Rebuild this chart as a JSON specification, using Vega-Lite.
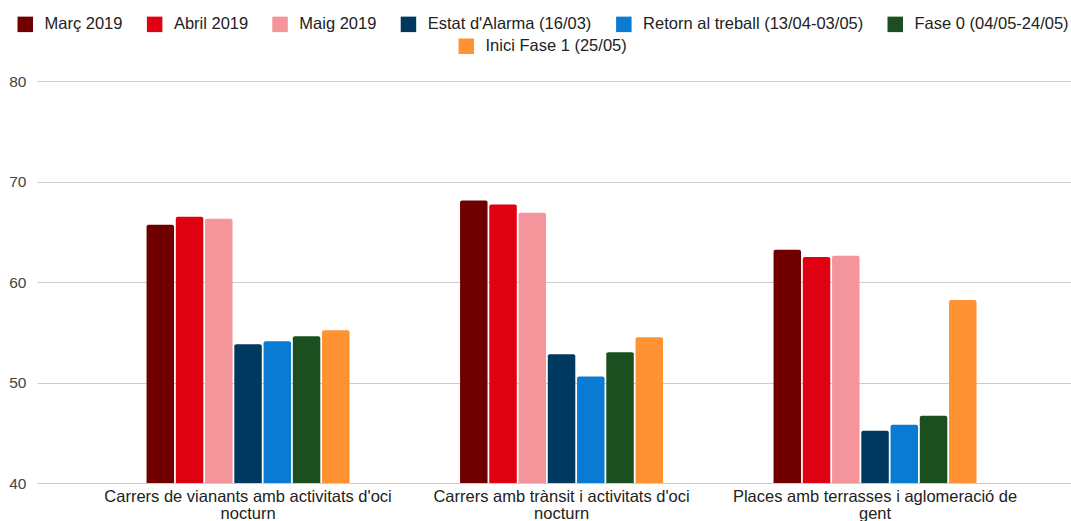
{
  "$schema": "https://vega.github.io/schema/vega-lite/v6.json",
  "width": 1034,
  "height": 402,
  "autosize": {"type": "none"},
  "padding": {"left": 37, "top": 81, "right": 0, "bottom": 38},
  "background": "white",
  "data": {
    "values": [
      {"cat": "Carrers de vianants amb activitats d'oci nocturn", "serie": "Març 2019", "value": 65.7},
      {"cat": "Carrers de vianants amb activitats d'oci nocturn", "serie": "Abril 2019", "value": 66.5},
      {"cat": "Carrers de vianants amb activitats d'oci nocturn", "serie": "Maig 2019", "value": 66.3},
      {"cat": "Carrers de vianants amb activitats d'oci nocturn", "serie": "Estat d'Alarma (16/03)", "value": 53.8},
      {"cat": "Carrers de vianants amb activitats d'oci nocturn", "serie": "Retorn al treball (13/04-03/05)", "value": 54.1},
      {"cat": "Carrers de vianants amb activitats d'oci nocturn", "serie": "Fase 0 (04/05-24/05)", "value": 54.6},
      {"cat": "Carrers de vianants amb activitats d'oci nocturn", "serie": "Inici Fase 1 (25/05)", "value": 55.2},
      {"cat": "Carrers amb trànsit i activitats d'oci nocturn", "serie": "Març 2019", "value": 68.1},
      {"cat": "Carrers amb trànsit i activitats d'oci nocturn", "serie": "Abril 2019", "value": 67.7},
      {"cat": "Carrers amb trànsit i activitats d'oci nocturn", "serie": "Maig 2019", "value": 66.9},
      {"cat": "Carrers amb trànsit i activitats d'oci nocturn", "serie": "Estat d'Alarma (16/03)", "value": 52.8},
      {"cat": "Carrers amb trànsit i activitats d'oci nocturn", "serie": "Retorn al treball (13/04-03/05)", "value": 50.6},
      {"cat": "Carrers amb trànsit i activitats d'oci nocturn", "serie": "Fase 0 (04/05-24/05)", "value": 53.0},
      {"cat": "Carrers amb trànsit i activitats d'oci nocturn", "serie": "Inici Fase 1 (25/05)", "value": 54.5},
      {"cat": "Places amb terrasses i aglomeració de gent", "serie": "Març 2019", "value": 63.2},
      {"cat": "Places amb terrasses i aglomeració de gent", "serie": "Abril 2019", "value": 62.5},
      {"cat": "Places amb terrasses i aglomeració de gent", "serie": "Maig 2019", "value": 62.6},
      {"cat": "Places amb terrasses i aglomeració de gent", "serie": "Estat d'Alarma (16/03)", "value": 45.2},
      {"cat": "Places amb terrasses i aglomeració de gent", "serie": "Retorn al treball (13/04-03/05)", "value": 45.8},
      {"cat": "Places amb terrasses i aglomeració de gent", "serie": "Fase 0 (04/05-24/05)", "value": 46.7},
      {"cat": "Places amb terrasses i aglomeració de gent", "serie": "Inici Fase 1 (25/05)", "value": 58.2}
    ]
  },
  "encoding": {
    "x": {
      "field": "cat", "type": "nominal", "sort": null, "title": null,
      "scale": {"paddingInner": 0.3525, "paddingOuter": 0.3254, "align": 0.537},
      "axis": {
        "labelAngle": 0, "ticks": false, "domain": false, "labelPadding": 5,
        "labelFont": "Liberation Sans", "labelFontSize": 16.5, "labelColor": "#222222",
        "labelLineHeight": 17, "labelLimit": 400,
        "labelExpr": "datum.label == \"Carrers de vianants amb activitats d'oci nocturn\" ? [\"Carrers de vianants amb activitats d'oci\", \"nocturn\"] : datum.label == \"Carrers amb trànsit i activitats d'oci nocturn\" ? [\"Carrers amb trànsit i activitats d'oci\", \"nocturn\"] : [\"Places amb terrasses i aglomeració de\", \"gent\"]"
      }
    },
    "xOffset": {
      "field": "serie", "type": "nominal", "sort": null,
      "scale": {
        "domain": ["Març 2019", "Abril 2019", "Maig 2019", "Estat d'Alarma (16/03)", "Retorn al treball (13/04-03/05)", "Fase 0 (04/05-24/05)", "Inici Fase 1 (25/05)"],
        "paddingInner": 0.06, "paddingOuter": 0
      }
    },
    "y": {
      "field": "value", "type": "quantitative", "title": null,
      "scale": {"domain": [40, 80], "zero": false, "nice": false},
      "axis": {
        "values": [40, 50, 60, 70, 80], "ticks": false, "domain": false, "labelPadding": 11,
        "labelFont": "Liberation Sans", "labelFontSize": 15.5, "labelColor": "#444444",
        "gridColor": "#cccccc", "gridWidth": 1
      }
    },
    "y2": {"datum": 40}
  },
  "layer": [
    {
      "transform": [{"filter": "datum.serie != 'Inici Fase 1 (25/05)'"}],
      "mark": {"type": "bar", "cornerRadiusTopLeft": 2, "cornerRadiusTopRight": 2},
      "encoding": {
        "color": {
          "field": "serie", "type": "nominal", "sort": null,
          "scale": {
            "domain": ["Març 2019", "Abril 2019", "Maig 2019", "Estat d'Alarma (16/03)", "Retorn al treball (13/04-03/05)", "Fase 0 (04/05-24/05)"],
            "range": ["#700000", "#df0011", "#f4959c", "#00395f", "#0a7bd3", "#1b4f1f"]
          },
          "legend": {"orient": "none", "legendX": -20, "legendY": -65, "direction": "horizontal", "title": null}
        }
      }
    },
    {
      "transform": [{"filter": "datum.serie == 'Inici Fase 1 (25/05)'"}],
      "mark": {"type": "bar", "cornerRadiusTopLeft": 2, "cornerRadiusTopRight": 2},
      "encoding": {
        "fill": {
          "field": "serie", "type": "nominal",
          "scale": {"domain": ["Inici Fase 1 (25/05)"], "range": ["#ff9233"]},
          "legend": {"orient": "none", "legendX": 421, "legendY": -43, "direction": "horizontal", "title": null}
        }
      }
    }
  ],
  "config": {
    "view": {"stroke": null},
    "legend": {
      "symbolType": "square", "symbolSize": 240, "symbolStrokeWidth": 0,
      "labelFont": "Liberation Sans", "labelFontSize": 16.5, "labelColor": "#222222",
      "labelOffset": 11, "columnPadding": 23.4, "padding": 0, "labelLimit": 0
    }
  }
}
